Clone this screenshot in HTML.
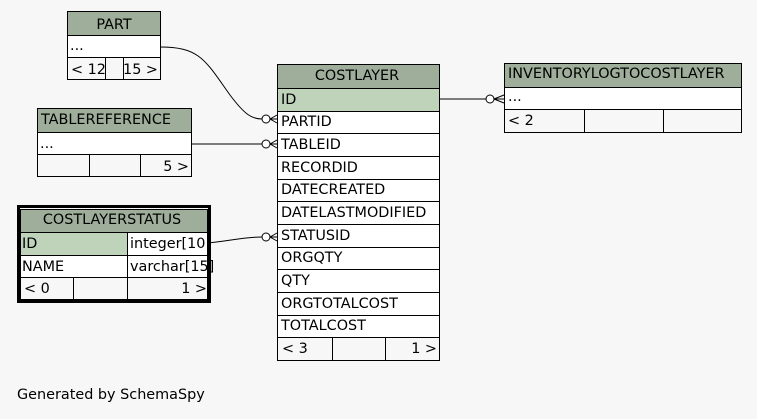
<!DOCTYPE html>
<html><head><meta charset="utf-8"><style>
html,body{margin:0;padding:0;background:#f7f7f7;}
svg{display:block;}
text{font-family:"DejaVu Sans","Liberation Sans",sans-serif;font-size:14.4px;fill:#000;}
</style></head><body>
<svg width="757" height="419" viewBox="0 0 757 419" xmlns="http://www.w3.org/2000/svg">
<rect width="757" height="419" fill="#f7f7f7"/>
<g stroke="#000" stroke-width="1" shape-rendering="crispEdges">
<rect x="67.5" y="11.5" width="93" height="24" fill="#9eae9a"/>
<rect x="67.5" y="35.5" width="93" height="22" fill="#fff"/>
<rect x="67.5" y="57.5" width="93" height="22" fill="none"/>
<line x1="105.5" y1="57.5" x2="105.5" y2="79.5"/><line x1="123.5" y1="57.5" x2="123.5" y2="79.5"/>
<rect x="37.5" y="108.5" width="154" height="24" fill="#9eae9a"/>
<rect x="37.5" y="132.5" width="154" height="22" fill="#fff"/>
<rect x="37.5" y="154.5" width="154" height="22" fill="none"/>
<line x1="89.5" y1="154.5" x2="89.5" y2="176.5"/><line x1="140.5" y1="154.5" x2="140.5" y2="176.5"/>
<rect x="18.5" y="206.5" width="191" height="95" fill="none" stroke-width="3"/>
<rect x="20.5" y="209.5" width="187" height="23" fill="#9eae9a"/>
<rect x="20.5" y="232.5" width="187" height="23" fill="#bfd3bb"/>
<rect x="127.5" y="232.5" width="80" height="23" fill="#fff"/>
<rect x="20.5" y="255.5" width="187" height="22" fill="#fff"/>
<rect x="20.5" y="277.5" width="187" height="22" fill="none"/>
<line x1="127.5" y1="232.5" x2="127.5" y2="299.5"/><line x1="73.5" y1="277.5" x2="73.5" y2="299.5"/>
<rect x="277.5" y="64.5" width="162" height="24" fill="#9eae9a"/>
<rect x="277.5" y="88.5" width="162" height="23" fill="#bfd3bb"/>
<rect x="277.5" y="111.5" width="162" height="226" fill="#fff"/>
<line x1="277.5" y1="133.5" x2="439.5" y2="133.5"/>
<line x1="277.5" y1="156.5" x2="439.5" y2="156.5"/>
<line x1="277.5" y1="179.5" x2="439.5" y2="179.5"/>
<line x1="277.5" y1="201.5" x2="439.5" y2="201.5"/>
<line x1="277.5" y1="224.5" x2="439.5" y2="224.5"/>
<line x1="277.5" y1="247.5" x2="439.5" y2="247.5"/>
<line x1="277.5" y1="269.5" x2="439.5" y2="269.5"/>
<line x1="277.5" y1="292.5" x2="439.5" y2="292.5"/>
<line x1="277.5" y1="315.5" x2="439.5" y2="315.5"/>
<rect x="277.5" y="337.5" width="162" height="23" fill="none"/>
<line x1="332.5" y1="337.5" x2="332.5" y2="360.5"/><line x1="385.5" y1="337.5" x2="385.5" y2="360.5"/>
<rect x="504.5" y="63.5" width="237" height="24" fill="#9eae9a"/>
<rect x="504.5" y="87.5" width="237" height="22" fill="#fff"/>
<rect x="504.5" y="109.5" width="237" height="23" fill="none"/>
<line x1="584.5" y1="109.5" x2="584.5" y2="132.5"/><line x1="663.5" y1="109.5" x2="663.5" y2="132.5"/>
</g>
<g stroke="#000" stroke-width="1" fill="none">
<path d="M160,47 C200,47 205,60 230,95 C245,115 252,119 262,119"/>
<line x1="191" y1="144" x2="262" y2="144"/>
<path d="M208,243 C235,240 245,237 262,237"/>
<line x1="439" y1="99" x2="486" y2="99"/>
<circle cx="266" cy="119" r="4" fill="#fff"/>
<circle cx="266" cy="144" r="4" fill="#fff"/>
<circle cx="266" cy="237" r="4" fill="#fff"/>
<circle cx="490" cy="99" r="4" fill="#fff"/>
<path d="M270,119 L277,115 M270,119 L277,119 M270,119 L277,123"/>
<path d="M270,144 L277,140 M270,144 L277,144 M270,144 L277,148"/>
<path d="M270,237 L277,233 M270,237 L277,237 M270,237 L277,241"/>
<path d="M494,99 L504,95 M494,99 L504,99 M494,99 L504,103"/>
</g>
<text x="114" y="29" text-anchor="middle">PART</text>
<text x="70" y="50">...</text>
<text x="71" y="74">&lt; 12</text>
<text x="158" y="74" text-anchor="end">15 &gt;</text>
<text x="41" y="124">TABLEREFERENCE</text>
<text x="40" y="148">...</text>
<text x="189" y="171" text-anchor="end">5 &gt;</text>
<text x="112" y="224" text-anchor="middle">COSTLAYERSTATUS</text>
<text x="22" y="248">ID</text>
<text x="130" y="248">integer[10</text>
<text x="22" y="271">NAME</text>
<text x="130" y="271">varchar[15]</text>
<text x="24" y="293">&lt; 0</text>
<text x="207" y="293" text-anchor="end">1 &gt;</text>
<text x="357" y="80" text-anchor="middle">COSTLAYER</text>
<text x="281" y="104">ID</text>
<text x="281" y="126">PARTID</text>
<text x="281" y="149">TABLEID</text>
<text x="281" y="172">RECORDID</text>
<text x="281" y="194">DATECREATED</text>
<text x="281" y="217">DATELASTMODIFIED</text>
<text x="281" y="240">STATUSID</text>
<text x="281" y="262">ORGQTY</text>
<text x="281" y="285">QTY</text>
<text x="281" y="308">ORGTOTALCOST</text>
<text x="281" y="330">TOTALCOST</text>
<text x="282" y="353">&lt; 3</text>
<text x="437" y="353" text-anchor="end">1 &gt;</text>
<text x="508" y="78">INVENTORYLOGTOCOSTLAYER</text>
<text x="508" y="101">...</text>
<text x="508" y="125">&lt; 2</text>
<text x="17" y="399">Generated by SchemaSpy</text>
</svg>
</body></html>
